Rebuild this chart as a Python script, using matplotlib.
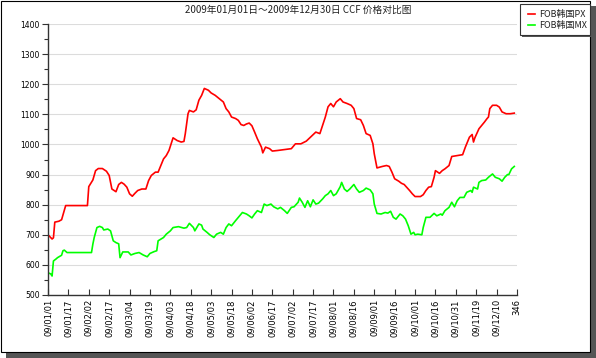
import matplotlib
matplotlib.use("Agg")
import matplotlib.pyplot as plt
from matplotlib.patches import Rectangle
from matplotlib.ticker import MultipleLocator

plt.rcParams['font.family'] = ['Noto Sans CJK SC', 'DejaVu Sans']

#%% data (x = sample index)
title = "2009年01月01日～2009年12月30日 CCF 价格对比图"
series_names = ["FOB韩国PX", "FOB韩国MX"]
series_colors = ["#ff0000", "#00ff00"]

px_idx = [0, 3, 4, 5, 8, 10, 13, 29, 30, 33, 35, 37, 40, 43, 45, 47, 50, 52, 54, 56,
          58, 60, 62, 64, 66, 69, 72, 74, 76, 79, 81, 83, 85, 87, 89, 91, 92, 95, 98, 100,
          101, 103, 104, 107, 109, 111, 113, 115, 118, 120, 123, 126, 129, 131, 133, 135, 138, 140, 142, 144,
          146, 148, 150, 152, 154, 157, 158, 160, 163, 165, 169, 174, 179, 182, 186, 190, 193, 197, 200, 202,
          204, 206, 208, 210, 212, 215, 217, 220, 223, 225, 227, 230, 232, 234, 237, 239, 240, 242, 246, 249,
          251, 253, 255, 258, 260, 262, 266, 268, 270, 274, 276, 278, 280, 282, 284, 285, 288, 290, 292, 295,
          297, 301, 305, 307, 310, 312, 313, 314, 317, 319, 321, 323, 324, 325, 327, 330, 332, 334, 337, 340,
          343]
px_val = [700, 686, 690, 742, 745, 750, 797, 797, 860, 882, 913, 920, 920, 911, 897, 852, 843, 867, 874, 868,
          858, 836, 828, 838, 847, 852, 852, 880, 897, 908, 908, 930, 952, 963, 980, 1008, 1022, 1013, 1008, 1010,
          1036, 1102, 1113, 1108, 1115, 1147, 1163, 1186, 1180, 1171, 1163, 1152, 1141, 1119, 1108, 1091, 1086, 1080, 1066, 1063,
          1068, 1071, 1062, 1041, 1019, 991, 972, 991, 986, 978, 980, 983, 986, 1002, 1002, 1011, 1024, 1041, 1036, 1063,
          1091, 1125, 1136, 1125, 1141, 1152, 1141, 1136, 1130, 1119, 1086, 1082, 1063, 1036, 1030, 1002, 969, 922, 927, 930,
          927, 908, 886, 878, 871, 867, 847, 836, 827, 827, 833, 847, 858, 860, 891, 913, 904, 913, 919, 930,
          960, 963, 966, 991, 1024, 1033, 1008, 1022, 1052, 1063, 1074, 1086, 1091, 1119, 1130, 1130, 1124, 1108, 1102, 1102,
          1104]

mx_idx = [0, 2, 3, 4, 6, 7, 10, 11, 12, 14, 32, 33, 34, 36, 38, 40, 41, 44, 46, 48,
          50, 52, 53, 55, 59, 61, 64, 67, 70, 73, 75, 78, 80, 81, 85, 87, 90, 92, 96, 100,
          102, 104, 107, 108, 111, 113, 114, 117, 119, 122, 124, 127, 129, 131, 133, 135, 138, 141, 143, 146,
          148, 150, 152, 154, 157, 159, 161, 164, 166, 169, 171, 174, 176, 179, 181, 184, 185, 187, 189, 191,
          193, 195, 197, 199, 202, 204, 206, 208, 210, 212, 215, 216, 218, 220, 222, 225, 227, 229, 232, 234,
          237, 239, 240, 242, 245, 248, 250, 252, 254, 256, 259, 261, 263, 265, 267, 269, 270, 272, 275, 276,
          278, 281, 284, 286, 289, 290, 292, 295, 297, 299, 301, 303, 306, 308, 311, 312, 313, 316, 317, 319,
          322, 324, 327, 329, 332, 334, 336, 338, 339, 341, 343]
mx_val = [574, 570, 563, 613, 620, 624, 632, 647, 649, 641, 641, 669, 691, 724, 728, 724, 716, 719, 713, 680,
          674, 670, 624, 643, 643, 633, 638, 641, 633, 627, 638, 644, 647, 680, 691, 702, 713, 724, 727, 722,
          724, 738, 724, 713, 736, 732, 719, 708, 700, 691, 702, 708, 702, 724, 736, 730, 747, 763, 774, 769,
          763, 756, 769, 780, 774, 802, 797, 802, 793, 786, 791, 780, 771, 791, 793, 808, 822, 808, 791, 813,
          793, 816, 802, 805, 819, 830, 836, 847, 830, 836, 860, 874, 852, 844, 852, 867, 852, 841, 847, 855,
          849, 836, 802, 771, 769, 774, 772, 778, 758, 752, 769, 763, 752, 730, 702, 708, 700, 702, 700, 724,
          758, 758, 771, 763, 769, 765, 780, 791, 808, 793, 813, 824, 824, 841, 847, 841, 858, 852, 874, 880,
          882, 891, 902, 891, 886, 878, 891, 900, 900, 919, 927]

x_tick_pos = list(range(0, 331, 15)) + [345]
x_tick_labels = ["09/01/01", "09/01/17", "09/02/02", "09/02/17", "09/03/04", "09/03/19",
                 "09/04/03", "09/04/18", "09/05/03", "09/05/18", "09/06/02", "09/06/17",
                 "09/07/02", "09/07/17", "09/08/01", "09/08/16", "09/09/01", "09/09/16",
                 "09/10/01", "09/10/16", "09/10/31", "09/11/19", "09/12/10", "346"]
y_ticks = [500, 600, 700, 800, 900, 1000, 1100, 1200, 1300, 1400]

#%% figure
W, H = 596, 358
fig = plt.figure(figsize=(W / 100, H / 100), dpi=100)
fig.patch.set_facecolor("white")

# outer frame + shadow, drawn in pixel coords
bg = fig.add_axes([0, 0, 1, 1], zorder=-10)
bg.set_xlim(0, W)
bg.set_ylim(H, 0)
bg.axis("off")
bg.add_patch(Rectangle((6, 6), W - 6, H - 6, facecolor="#555555", edgecolor="none"))
bg.add_patch(Rectangle((0.5, 0.5), 589, 351, facecolor="white", edgecolor="black", lw=0.8))

ax = fig.add_axes([48 / W, 1 - 295 / H, (517 - 48) / W, (295 - 24) / H])
ax.patch.set_alpha(0)

ax.plot(px_idx, px_val, color=series_colors[0], lw=1.2)
ax.plot(mx_idx, mx_val, color=series_colors[1], lw=1.2)

ax.set_xlim(0, 345)
ax.set_ylim(500, 1400)
ax.set_yticks(y_ticks)
ax.yaxis.set_minor_locator(MultipleLocator(50))
ax.set_xticks(x_tick_pos)
ax.set_xticklabels(x_tick_labels, rotation=90, fontsize=6, family="DejaVu Sans")
for lab in ax.get_yticklabels():
    lab.set_fontsize(5.5)
    lab.set_family("DejaVu Sans")

ax.yaxis.grid(True, color="#dcdcdc", lw=0.8)
ax.set_axisbelow(True)
for s in ["top", "right"]:
    ax.spines[s].set_visible(False)
for s in ["left", "bottom"]:
    ax.spines[s].set_color("#333333")
    ax.spines[s].set_linewidth(1.0)
ax.tick_params(axis="y", which="major", direction="out", length=4, width=0.8, color="#333333", pad=2)
ax.tick_params(axis="y", which="minor", direction="out", length=3, width=0.8, color="#333333")
ax.tick_params(axis="x", direction="in", length=4, width=0.8, color="#333333", pad=3)

# title
bg.text(298, 10, title, ha="center", va="center", fontsize=7, color="#222222")

# legend box
bg.add_patch(Rectangle((522, 6), 70, 31, facecolor="#555555", edgecolor="none"))
bg.add_patch(Rectangle((520, 4), 70, 31, facecolor="white", edgecolor="#333333", lw=0.8))
for k, (name, col) in enumerate(zip(series_names, series_colors)):
    yy = 14 + k * 11
    bg.plot([528, 535], [yy, yy], color=col, lw=1.2)
    bg.text(539, yy, name, ha="left", va="center", fontsize=6.5, color="#222222")

fig.savefig("out.png", dpi=100)
